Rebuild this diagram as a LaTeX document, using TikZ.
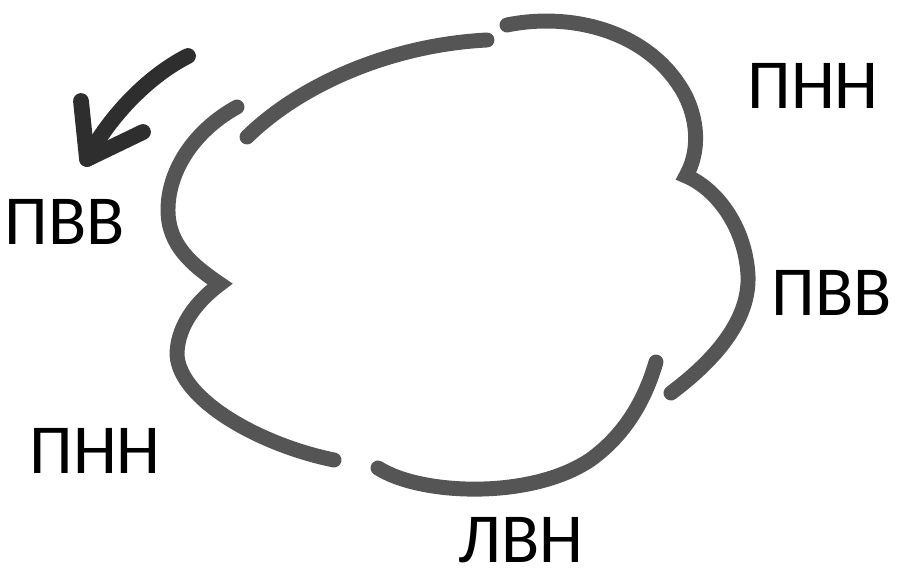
\documentclass[tikz,border=0pt]{standalone}
\usepackage{fontspec}
\setmainfont{Carlito}
\definecolor{brush}{HTML}{555555}
\definecolor{ink}{HTML}{2E2E2E}
\begin{document}
\begin{tikzpicture}[x=0.02cm,y=-0.02cm,
    stroke/.style={draw=brush,line width=8.5pt,line cap=round,line join=miter,miter limit=2},
    arrowline/.style={draw=ink,line width=9pt,line cap=round,line join=round},
    lbl/.style={inner sep=0pt,font=\fontsize{40}{40}\selectfont}]
  \useasboundingbox (0,0) rectangle (904,580);
  \draw
    (813,86) node[lbl] (pnnR){ПНН}
    (832,293) node[lbl] (pvvR){ПВВ}
    (65,222) node[lbl] (pvvL){ПВВ}
    (95,451) node[lbl] (pnnL){ПНН}
    (521,540) node[lbl] (lvn){ЛВН};
  \begin{scope}[stroke]
    \draw (247,137) .. controls (300,85) and (390,45) .. (487,40);
    \draw (237,107) .. controls (195,130) and (168,170) .. (168,210)
      .. controls (168,245) and (192,265) .. (220,284)
      .. controls (192,305) and (177,330) .. (177,355)
      .. controls (180,400) and (260,445) .. (334,460);
    \draw (507,25) .. controls (570,12) and (650,30) .. (685,95)
      .. controls (700,125) and (698,155) .. (686,176)
      .. controls (715,188) and (745,225) .. (748,275)
      .. controls (750,320) and (715,360) .. (671,393);
    \draw (378,468) .. controls (420,495) and (530,500) .. (590,460)
      .. controls (625,435) and (645,400) .. (656,362);
  \end{scope}
  \coordinate (tail) at (188,56);
  \coordinate (tip) at (87,159);
  \coordinate (barbL) at (81,101);
  \coordinate (barbR) at (143,132);
  \draw[arrowline] (tail) .. controls (150,75) and (110,115) .. (tip);
  \draw[arrowline] (barbL) -- (tip) -- (barbR);
\end{tikzpicture}
\end{document}
